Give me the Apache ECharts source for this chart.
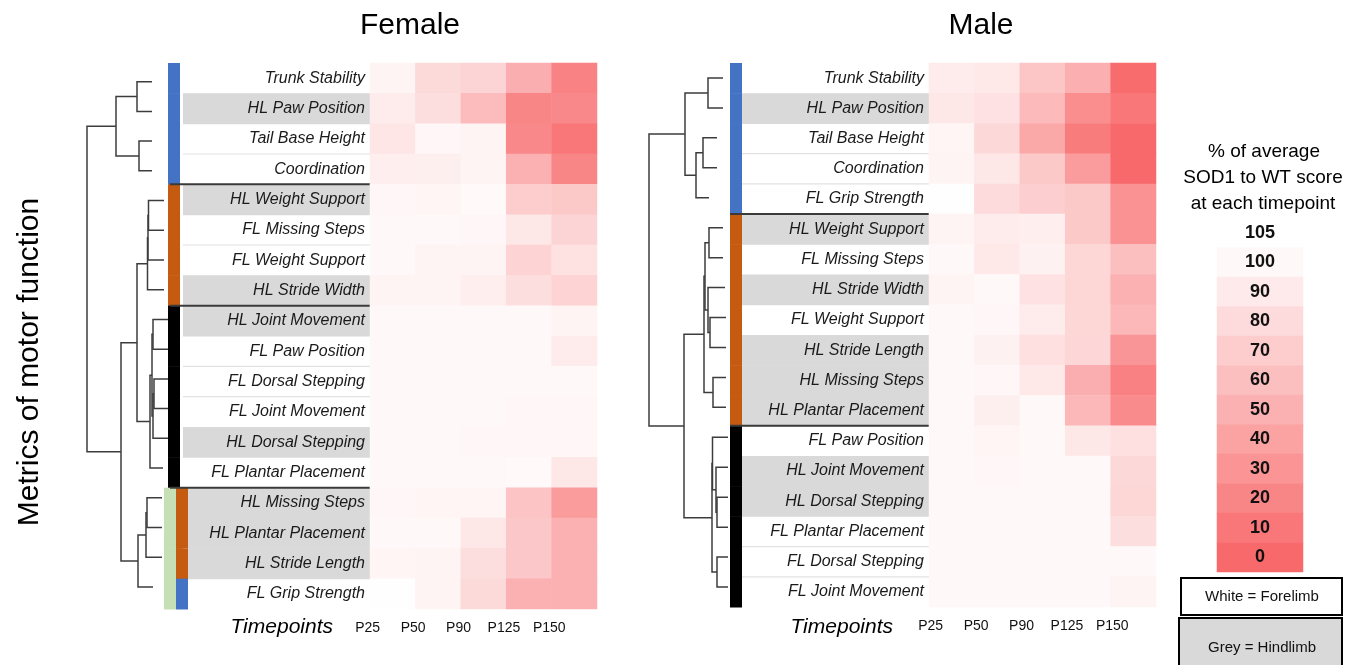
<!DOCTYPE html>
<html>
<head>
<meta charset="utf-8">
<script src="https://cdn.jsdelivr.net/npm/echarts@6/dist/echarts.min.js"></script>
<style>
  html, body { margin: 0; padding: 0; background: #fff; }
  #chart { width: 1361px; height: 665px; }
</style>
</head>
<body>
<div id="chart"></div>
<script>
const timepoints = ['P25', 'P50', 'P90', 'P125', 'P150']

// ---- Female ----
const femaleRows = ['Trunk Stability', 'HL Paw Position', 'Tail Base Height', 'Coordination',
    'HL Weight Support', 'FL Missing Steps', 'FL Weight Support', 'HL Stride Width',
    'HL Joint Movement', 'FL Paw Position', 'FL Dorsal Stepping', 'FL Joint Movement',
    'HL Dorsal Stepping', 'FL Plantar Placement', 'HL Missing Steps', 'HL Plantar Placement',
    'HL Stride Length', 'FL Grip Strength']
const femaleScores = [
    [97, 79, 75, 48, 18],
    [92, 82, 58, 20, 22],
    [87, 99, 97, 22, 10],
    [93, 94, 97, 50, 20],
    [99, 98, 101, 69, 67],
    [100, 100, 99, 88, 75],
    [100, 97, 97, 74, 84],
    [97, 97, 93, 82, 74],
    [100, 100, 100, 100, 97],
    [100, 100, 100, 100, 91],
    [100, 100, 100, 100, 100],
    [100, 100, 100, 99, 99],
    [100, 100, 99, 99, 99],
    [100, 100, 100, 101, 88],
    [99, 98, 98, 64, 35],
    [100, 100, 88, 66, 50],
    [98, 97, 82, 66, 50],
    [104, 97, 79, 50, 50]
]
const femaleCluster = ['blue', 'blue', 'blue', 'blue', 'orange', 'orange', 'orange', 'orange',
    'black', 'black', 'black', 'black', 'black', 'black', 'green', 'green', 'green', 'green']
const femaleSubCluster = [null, null, null, null, null, null, null, null, null, null, null, null, null, null,
    'orange', 'orange', 'orange', 'blue']
// dendrogram merges: [childA, childB, height]; leaves are 0..17, new nodes 18..
const femaleMerges = [
    [0, 1, 31], [2, 3, 29], [18, 19, 52],
    [4, 5, 19.5], [21, 6, 20], [22, 7, 20.5],
    [8, 9, 15], [10, 11, 14], [25, 12, 15], [24, 26, 16], [27, 13, 18],
    [23, 28, 31],
    [14, 15, 21], [30, 16, 22], [31, 17, 30],
    [29, 32, 47], [20, 33, 81]
]
const femaleLeafTip = [16, 16, 16, 16, 4, 4, 4, 4, 0, 0, 0, 0, 0, 5, 6, 6, 6, 15]

// ---- Male ----
const maleRows = ['Trunk Stability', 'HL Paw Position', 'Tail Base Height', 'Coordination',
    'FL Grip Strength', 'HL Weight Support', 'FL Missing Steps', 'HL Stride Width',
    'FL Weight Support', 'HL Stride Length', 'HL Missing Steps', 'HL Plantar Placement',
    'FL Paw Position', 'HL Joint Movement', 'HL Dorsal Stepping', 'FL Plantar Placement',
    'FL Dorsal Stepping', 'FL Joint Movement']
const maleScores = [
    [91, 89, 65, 49, 2],
    [88, 85, 57, 25, 10],
    [98, 78, 44, 13, 0],
    [97, 88, 67, 36, 0],
    [104, 80, 71, 67, 28],
    [97, 92, 93, 67, 29],
    [100, 89, 95, 76, 60],
    [97, 100, 85, 76, 50],
    [100, 99, 92, 76, 55],
    [100, 95, 83, 77, 31],
    [100, 99, 89, 48, 17],
    [100, 94, 100, 55, 24],
    [100, 98, 100, 88, 83],
    [100, 99, 100, 100, 78],
    [100, 100, 100, 100, 76],
    [100, 100, 100, 100, 82],
    [100, 100, 100, 100, 100],
    [100, 100, 100, 100, 97]
]
const maleCluster = ['blue', 'blue', 'blue', 'blue', 'blue', 'orange', 'orange', 'orange', 'orange',
    'orange', 'orange', 'orange', 'black', 'black', 'black', 'black', 'black', 'black']
const maleSubCluster = maleRows.map(() => null)
const maleMerges = [
    [0, 1, 20], [2, 3, 25], [19, 4, 32], [18, 20, 43],
    [5, 6, 19], [8, 9, 18], [7, 23, 20], [22, 24, 23], [10, 11, 15], [25, 26, 24],
    [14, 15, 11], [13, 28, 12], [12, 29, 15.5], [16, 17, 11], [30, 31, 16],
    [27, 32, 44], [21, 33, 79]
]
const maleLeafTip = [5, 5, 11, 11, 19, 5, 5, 3, 2, 2, 2, 2, 0, 0, 0, 0, 0, 0]

// ---- colour key ----
const keyLevels = [105, 100, 90, 80, 70, 60, 50, 40, 30, 20, 10, 0]

const clusterColors = { blue: '#4472C4', orange: '#C55A11', black: '#000000', green: '#C5E0B4' }
const FONT = 'Liberation Sans, Arial, sans-serif'

let myChart = echarts.init(document.getElementById('chart'), null, { renderer: 'canvas' })

function heatData(scores) {
    const out = []
    scores.forEach((row, r) => row.forEach((v, c) => out.push([c, r, v])))
    return out
}

function dendroData(merges, leafTip) {
    const n = leafTip.length
    const pos = [], hgt = []
    for (let i = 0; i < n; i++) { pos[i] = i; hgt[i] = leafTip[i] }
    const data = []
    merges.forEach(([a, b, h], k) => {
        data.push({ coords: [[hgt[a], pos[a]], [h, pos[a]], [h, pos[b]], [hgt[b], pos[b]]] })
        pos[n + k] = (pos[a] + pos[b]) / 2
        hgt[n + k] = h
    })
    return data
}

// label backgrounds, cluster colour bars and group lines
function sideSeries(idx, rows, cluster, sub, lay) {
    const isHL = i => rows[i].indexOf('HL') === 0
    return {
        type: 'custom',
        xAxisIndex: idx,
        yAxisIndex: idx,
        silent: true,
        z: 1,
        data: rows.map((r, i) => [0, i]),
        renderItem: function (params, api) {
            const i = params.dataIndex
            const bh = api.size([0, 1])[1]
            const y0 = api.coord([0, i])[1] - bh / 2
            const X = v => api.coord([v, i])[0]
            const rect = (a, b, color) => ({
                type: 'rect',
                shape: { x: X(a), y: y0, width: X(b) - X(a), height: bh + 0.5 },
                style: { fill: color }
            })
            const hline = (a, color, w) => ({
                type: 'line',
                shape: { x1: X(a), y1: y0, x2: X(lay.label[1]), y2: y0 },
                style: { stroke: color, lineWidth: w }
            })
            const kids = []
            if (isHL(i)) kids.push(rect(lay.label[0], lay.label[1], '#D9D9D9'))
            if (sub[i]) {
                kids.push(rect(lay.outer[0], lay.outer[1], clusterColors[cluster[i]]))
                kids.push(rect(lay.inner[0], lay.inner[1], clusterColors[sub[i]]))
            } else {
                kids.push(rect(lay.main[0], lay.main[1], clusterColors[cluster[i]]))
            }
            if (i > 0 && cluster[i] !== cluster[i - 1]) {
                kids.push(hline(lay.lineStart, '#3a3a3a', 2))
            } else if (i > 0 && !isHL(i) && !isHL(i - 1)) {
                kids.push(hline(lay.label[0], '#E2E2E2', 1.2))
            }
            return { type: 'group', children: kids }
        }
    }
}

function heatAxes(grid, rows, labelMargin, labelShift) {
    return {
        x: {
            type: 'category', gridIndex: grid, data: timepoints, position: 'bottom',
            axisLine: { show: false }, axisTick: { show: false }, splitLine: { show: false },
            axisLabel: { interval: 0, fontSize: 14, color: '#111', margin: 12, fontFamily: FONT,
                padding: [0, labelShift, 0, 0] }
        },
        y: {
            type: 'category', gridIndex: grid, data: rows, inverse: true, z: 5,
            axisLine: { show: false }, axisTick: { show: false }, splitLine: { show: false },
            axisLabel: { interval: 0, fontSize: 16, fontStyle: 'italic', color: '#1a1a1a',
                margin: labelMargin, fontFamily: FONT, padding: [6, 0, 0, 0] }
        }
    }
}

const fH = heatAxes(0, femaleRows, 5, 50)
const mH = heatAxes(3, maleRows, 5, 42)

myChart.setOption({
    animation: false,
    textStyle: { fontFamily: FONT },
    grid: [
        { left: 370, top: 63, width: 227, height: 546 },   // 0 female heatmap
        { left: 160, top: 63, width: 210, height: 546 },   // 1 female side
        { left: 87, top: 66.8, width: 81, height: 535 },   // 2 female dendrogram
        { left: 929, top: 63, width: 227, height: 544 },   // 3 male heatmap
        { left: 720, top: 63, width: 209, height: 544 },   // 4 male side
        { left: 649, top: 63, width: 79, height: 539 },    // 5 male dendrogram
        { left: 1217, top: 218, width: 86, height: 354 }   // 6 colour key
    ],
    xAxis: [
        fH.x,
        { type: 'value', gridIndex: 1, min: 0, max: 210, show: false },
        { type: 'value', gridIndex: 2, min: 0, max: 81, inverse: true, show: false },
        mH.x,
        { type: 'value', gridIndex: 4, min: 0, max: 209, show: false },
        { type: 'value', gridIndex: 5, min: 0, max: 79, inverse: true, show: false },
        { type: 'category', gridIndex: 6, data: [''], show: false }
    ],
    yAxis: [
        fH.y,
        { type: 'category', gridIndex: 1, data: femaleRows, inverse: true, show: false },
        { type: 'value', gridIndex: 2, min: -0.5, max: 17.5, inverse: true, show: false },
        mH.y,
        { type: 'category', gridIndex: 4, data: maleRows, inverse: true, show: false },
        { type: 'value', gridIndex: 5, min: -0.5, max: 17.5, inverse: true, show: false },
        { type: 'category', gridIndex: 6, data: keyLevels.map(String), inverse: true, show: false }
    ],
    visualMap: {
        show: false,
        min: 0,
        max: 105,
        seriesIndex: [0, 3, 6],
        dimension: 2,
        inRange: { color: ['#F8696B', '#FFFFFF'] }
    },
    series: [
        {
            type: 'heatmap', xAxisIndex: 0, yAxisIndex: 0, silent: true,
            data: heatData(femaleScores), itemStyle: { borderWidth: 0 }
        },
        sideSeries(1, femaleRows, femaleCluster, femaleSubCluster,
            { main: [8, 20], outer: [4, 16], inner: [16, 28], label: [23, 210], lineStart: 10 }),
        {
            type: 'lines', coordinateSystem: 'cartesian2d', xAxisIndex: 2, yAxisIndex: 2,
            polyline: true, silent: true,
            lineStyle: { color: '#3c3c3c', width: 1.5, opacity: 1 },
            data: dendroData(femaleMerges, femaleLeafTip)
        },
        {
            type: 'heatmap', xAxisIndex: 3, yAxisIndex: 3, silent: true,
            data: heatData(maleScores), itemStyle: { borderWidth: 0 }
        },
        sideSeries(4, maleRows, maleCluster, maleSubCluster,
            { main: [10, 22], outer: [10, 22], inner: [10, 22], label: [22, 209], lineStart: 10 }),
        {
            type: 'lines', coordinateSystem: 'cartesian2d', xAxisIndex: 5, yAxisIndex: 5,
            polyline: true, silent: true,
            lineStyle: { color: '#3c3c3c', width: 1.5, opacity: 1 },
            data: dendroData(maleMerges, maleLeafTip)
        },
        {
            type: 'heatmap', xAxisIndex: 6, yAxisIndex: 6, silent: true,
            data: keyLevels.map((v, i) => [0, i, v]),
            label: {
                show: true, formatter: p => p.value[2], fontSize: 18, fontWeight: 'bold',
                color: '#111', fontFamily: FONT
            }
        }
    ],
    graphic: {
        elements: [
            { type: 'text', x: 410, y: 26, style: { text: 'Female', fontSize: 30, fill: '#000', align: 'center', verticalAlign: 'middle', fontFamily: FONT } },
            { type: 'text', x: 981, y: 26, style: { text: 'Male', fontSize: 30, fill: '#000', align: 'center', verticalAlign: 'middle', fontFamily: FONT } },
            { type: 'text', x: 30, y: 362, rotation: Math.PI / 2, style: { text: 'Metrics of motor function', fontSize: 30, fill: '#000', align: 'center', verticalAlign: 'middle', fontFamily: FONT } },
            { type: 'text', x: 333, y: 627, style: { text: 'Timepoints', fontSize: 21, fontStyle: 'italic', fill: '#000', align: 'right', verticalAlign: 'middle', fontFamily: FONT } },
            { type: 'text', x: 893, y: 627, style: { text: 'Timepoints', fontSize: 21, fontStyle: 'italic', fill: '#000', align: 'right', verticalAlign: 'middle', fontFamily: FONT } },
            { type: 'text', x: 1264, y: 152, style: { text: '% of average', fontSize: 19, fill: '#000', align: 'center', verticalAlign: 'middle', fontFamily: FONT } },
            { type: 'text', x: 1263, y: 178, style: { text: 'SOD1 to WT score', fontSize: 19, fill: '#000', align: 'center', verticalAlign: 'middle', fontFamily: FONT } },
            { type: 'text', x: 1263, y: 204, style: { text: 'at each timepoint', fontSize: 19, fill: '#000', align: 'center', verticalAlign: 'middle', fontFamily: FONT } },
            { type: 'rect', shape: { x: 1181, y: 578, width: 161, height: 37 }, style: { fill: '#fff', stroke: '#000', lineWidth: 2 } },
            { type: 'text', x: 1262, y: 597, style: { text: 'White = Forelimb', fontSize: 15, fill: '#111', align: 'center', verticalAlign: 'middle', fontFamily: FONT } },
            { type: 'rect', shape: { x: 1179, y: 618, width: 163, height: 60 }, style: { fill: '#D9D9D9', stroke: '#000', lineWidth: 2 } },
            { type: 'text', x: 1262, y: 648, style: { text: 'Grey = Hindlimb', fontSize: 15, fill: '#111', align: 'center', verticalAlign: 'middle', fontFamily: FONT } }
        ]
    }
})

window.addEventListener('resize', () => {
    myChart.resize()
})
</script>
</body>
</html>
